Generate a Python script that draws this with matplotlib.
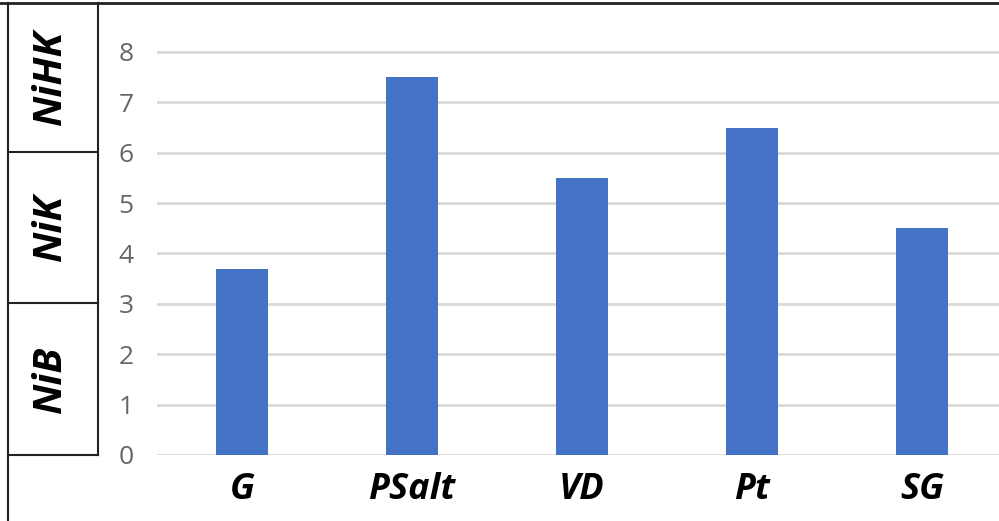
import matplotlib.pyplot as plt
from matplotlib.lines import Line2D

categories = ["G", "PSalt", "VD", "Pt", "SG"]
values = [3.7, 7.5, 5.5, 6.5, 4.5]
y_ticks = [0, 1, 2, 3, 4, 5, 6, 7, 8]
side_labels = ["NiHK", "NiK", "NiB"]   # top to bottom

W, H = 999, 521
fig = plt.figure(figsize=(W / 100, H / 100), dpi=100)

def fx(px):
    return px / W

def fy(py):
    return 1 - py / H

# plot area: zero line at y=455, top frame at y=3
ax = fig.add_axes([fx(157), fy(455), 1 - fx(157), fy(3) - fy(455)])
unit = (455 - 52) / 8
ax.set_ylim(0, (455 - 3) / unit)
ax.set_xlim(-0.5, (999 - 242) / 170)

x = range(len(categories))
ax.bar(x, values, width=0.31, color="#4472C4", zorder=3)

ax.set_yticks(y_ticks)
ax.set_yticklabels([str(t) for t in y_ticks], fontsize=19, color="#666666",
                   family="Open Sans")
ax.yaxis.grid(True, color="#d9d9d9", linewidth=2, zorder=0)
ax.tick_params(axis="y", length=0, pad=17)
ax.set_xticks(list(x))
ax.set_xticklabels(categories, fontsize=26, fontweight="bold", style="italic",
                   family="Open Sans", color="black")
ax.tick_params(axis="x", length=0, pad=12)
for s in ax.spines.values():
    s.set_visible(False)

# frame and side boxes
def line(x0, y0, x1, y1, lw=1.5):
    fig.add_artist(Line2D([fx(x0), fx(x1)], [fy(y0), fy(y1)], color="#222222",
                          linewidth=lw))

line(0, 3, 999, 3, 2)
line(8, 3, 8, 521)
line(98, 3, 98, 455)
for yy in (152, 303, 455):
    line(8, yy, 98, yy)

box_edges = [3, 152, 303, 455]
for i, lab in enumerate(side_labels):
    cy = (box_edges[i] + box_edges[i + 1]) / 2
    fig.text(fx(50), fy(cy), lab, rotation=90, ha="center", va="center",
             fontsize=29, fontweight="bold", style="italic", family="Open Sans")

fig.savefig("out.png", dpi=100)
